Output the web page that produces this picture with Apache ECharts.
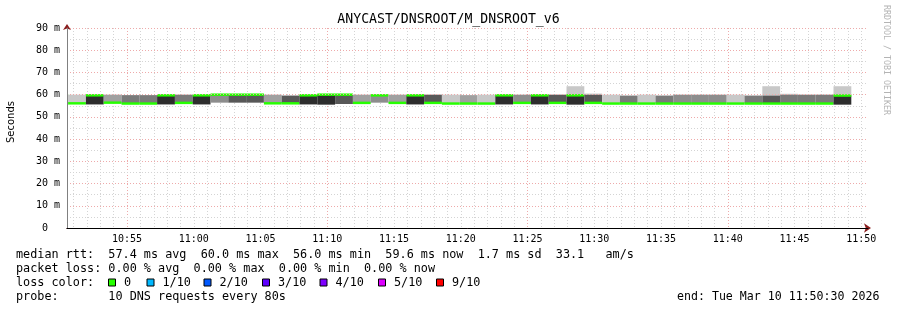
<!DOCTYPE html>
<html><head><meta charset="utf-8">
<script src="https://cdn.jsdelivr.net/npm/echarts@6/dist/echarts.min.js"></script>
<style>html,body{margin:0;padding:0;background:#fff}#c{width:897px;height:310px}</style>
</head><body><div id="c"></div>
<script>
// ---- data ----
const stepTimes = ['10:49:15','10:50:35','10:51:55','10:53:15','10:54:35','10:55:55','10:57:15','10:58:35','10:59:55','11:01:15','11:02:35','11:03:55','11:05:15','11:06:35','11:07:55','11:09:15','11:10:35','11:11:55','11:13:15','11:14:35','11:15:55','11:17:15','11:18:35','11:19:55','11:21:15','11:22:35','11:23:55','11:25:15','11:26:35','11:27:55','11:29:15','11:30:35','11:31:55','11:33:15','11:34:35','11:35:55','11:37:15','11:38:35','11:39:55','11:41:15','11:42:35','11:43:55','11:45:15','11:46:35','11:47:55'];
const medianRtt = [59.7,56.1,59.7,56.4,56.0,56.0,59.7,56.3,59.7,60.0,60.0,60.0,56.1,56.1,59.7,60.0,60.0,56.3,59.7,56.3,59.7,56.3,56.0,56.0,56.0,59.7,56.3,59.7,56.3,59.7,56.3,56.0,56.0,56.0,56.0,56.0,56.0,56.0,56.0,56.0,56.0,56.0,56.0,56.0,59.6];
const smokeLow  = [55.6,56.1,55.6,56.4,56.0,56.0,55.6,56.3,55.6,56.4,56.4,56.4,56.1,56.1,55.6,55.5,55.8,56.3,56.4,56.3,55.6,56.3,56.0,56.0,56.0,55.6,56.3,55.6,56.3,55.5,56.3,56.0,56.0,56.0,56.0,56.0,56.0,56.0,56.0,56.0,56.0,56.0,56.0,56.0,55.5];
const smokeHigh = [59.7,60.0,59.7,60.0,59.8,59.8,59.7,60.0,59.7,60.0,60.0,60.0,60.0,59.6,59.7,60.0,60.0,60.0,59.6,60.0,59.7,60.0,60.0,59.8,60.0,59.7,60.0,59.7,60.0,59.7,60.0,60.0,59.6,60.0,59.6,60.0,60.0,60.0,60.0,59.6,59.6,60.0,60.0,60.0,59.7];
const smokeOuter = [0,0,0,0,0,0,0,0,0,0,0,0,0,0,0,0,0,0,0,0,0,0,0,0,0,0,0,0,0,63.8,60.5,0,0,0,0,0,0,0,0,0,63.8,60.4,0,0,63.8];
const smokeDensity = [5,1,5,2,3,3,5,3,5,2.5,4,4,2,4,5,5,4,2,2.5,2,5,4,1,2,1,5,2.5,5,4,5,4,1,3,1,3,2.5,2.5,2.5,1,3,4,3,3,3,5];
const yTicks = [0,10,20,30,40,50,60,70,80,90];
const xTickLabels = ['10:55','11:00','11:05','11:10','11:15','11:20','11:25','11:30','11:35','11:40','11:45','11:50'];
const xMajorGrid = ['10:55','11:10','11:25','11:40'];
const axisRange = ['10:50:30','11:50:30'];
const lossLabels = ['0','1/10','2/10','3/10','4/10','5/10','9/10'];
const lossColors = ['#26ff00','#00b8ff','#0059ff','#5e00ff','#7e00ff','#dd00ff','#ff0000'];
const statsLines = [
  'median rtt:  57.4 ms avg  60.0 ms max  56.0 ms min  59.6 ms now  1.7 ms sd  33.1   am/s',
  'packet loss: 0.00 % avg  0.00 % max  0.00 % min  0.00 % now',
  'loss color:',
  'probe:       10 DNS requests every 80s'
];
const endText = 'end: Tue Mar 10 11:50:30 2026';
const titleText = 'ANYCAST/DNSROOT/M_DNSROOT_v6';
const STEP_SECONDS = 80;

// ---- helpers ----
const toMin = s => { const p = s.split(':').map(Number); return p[0]*60 + p[1] + (p[2]||0)/60; };
const fmtTime = v => { const h = Math.floor(v/60), m = Math.round(v - h*60); return (h<10?'0':'')+h+':'+(m<10?'0':'')+m; };
const X_MIN = toMin(axisRange[0]), X_MAX = toMin(axisRange[1]);
const STEP_MIN = STEP_SECONDS/60;
const greyLevels = [200,160,122,88,45];
function densityColor(d){
  const f = Math.min(Math.max(d,1),5) - 1, i = Math.floor(f), r = f - i;
  const g = Math.round(i >= 4 ? greyLevels[4] : greyLevels[i]*(1-r) + greyLevels[i+1]*r);
  return 'rgb('+g+','+g+','+g+')';
}
const majorMin = xMajorGrid.map(toMin);
const minorMin = [];
for (let m = Math.ceil(X_MIN); m <= Math.floor(X_MAX); m++) if (majorMin.indexOf(m) < 0) minorMin.push(m);

const MONO = '"DejaVu Sans Mono", monospace';
const MGRID = '#eeaaaa', GRID = '#d4d4d4', ARROW = '#8a1c1c';
const dots = [1,2];

const seriesData = stepTimes.map((t,i) => [toMin(t), smokeLow[i], smokeHigh[i], medianRtt[i], smokeOuter[i]]);

function renderItem(params, api){
  const cs = params.coordSys;
  const t = api.value(0), lo = api.value(1), hi = api.value(2), med = api.value(3), outer = api.value(4);
  const pA = api.coord([t, hi]), pB = api.coord([t + STEP_MIN, lo]);
  const x0 = Math.max(pA[0], cs.x), x1 = Math.min(pB[0], cs.x + cs.width);
  if (x1 <= x0) return;
  const kids = [];
  if (outer > hi) {
    const pO = api.coord([t, outer]);
    kids.push({type:'rect', shape:{x:x0, y:pO[1], width:x1-x0, height:pA[1]-pO[1]}, style:{fill:densityColor(1)}});
  }
  kids.push({type:'rect', shape:{x:x0, y:pA[1], width:x1-x0, height:pB[1]-pA[1]}, style:{fill:densityColor(smokeDensity[params.dataIndex])}});
  const m1 = api.coord([t, med + 0.55])[1], m2 = api.coord([t, med - 0.55])[1];
  kids.push({type:'rect', shape:{x:x0, y:m1, width:x1-x0, height:m2-m1}, style:{fill:lossColors[0]}});
  return {type:'group', children:kids};
}

// legend layout for the loss colour row
const legendBoxX = [108, 146.5, 203.5, 262, 319.5, 378, 436];
const TXT = '11.8px '+MONO;
const graphics = [];
graphics.push({type:'text', left:'center', top:13, style:{text:titleText, font:'13.2px '+MONO, fill:'#000'}});
graphics.push({type:'text', x:11, y:122, rotation:Math.PI/2, style:{text:'Seconds', font:'10px "DejaVu Sans", sans-serif', fill:'#000', align:'center', verticalAlign:'middle'}});
graphics.push({type:'text', x:886, y:5, rotation:-Math.PI/2, style:{text:'RRDTOOL / TOBI OETIKER', font:'8.3px '+MONO, fill:'#b4b4b4', align:'left', verticalAlign:'middle'}});
const lineY = [254.5, 268.5, 282.5, 296.5];
statsLines.forEach((s,i) => graphics.push({type:'text', x:16, y:lineY[i], style:{text:s, font:TXT, fill:'#000', verticalAlign:'middle', whiteSpace:'pre'}}));
graphics.push({type:'text', x:677, y:lineY[3], style:{text:endText, font:'11.6px '+MONO, fill:'#000', align:'left', verticalAlign:'middle'}});
lossLabels.forEach((l,i) => {
  graphics.push({type:'rect', shape:{x:legendBoxX[i]+0.5, y:lineY[2]-3.5, width:7, height:7}, style:{fill:lossColors[i], stroke:'#000', lineWidth:1}});
  graphics.push({type:'text', x:legendBoxX[i]+16, y:lineY[2], style:{text:l, font:TXT, fill:'#000', verticalAlign:'middle'}});
});

const baseX = {type:'value', min:X_MIN, max:X_MAX, gridIndex:0};
const baseY = {type:'value', min:0, max:90, gridIndex:0};
const option = {
  animation:false,
  backgroundColor:'#fff',
  grid:{left:67, right:29, top:28, bottom:82, outerBoundsMode:'none', containLabel:false},
  xAxis:[
    Object.assign({}, baseX, {z:3, position:'bottom',
      axisLine:{show:true, onZero:false, lineStyle:{color:'#000', width:1}},
      axisTick:{show:false, customValues:xTickLabels.map(toMin)},
      axisLabel:{show:true, customValues:xTickLabels.map(toMin), formatter:v=>fmtTime(v), fontFamily:MONO, fontSize:10, color:'#000', margin:6, showMinLabel:true, showMaxLabel:true},
      splitLine:{show:false}}),
    Object.assign({}, baseX, {z:1, position:'bottom',
      axisLine:{show:true, onZero:false, symbol:['none','arrow'], symbolSize:[7,7], symbolOffset:[0,3], lineStyle:{color:ARROW, width:1}},
      axisTick:{show:false}, axisLabel:{show:false}, splitLine:{show:false}}),
    Object.assign({}, baseX, {z:0,
      axisLine:{show:false}, axisTick:{show:false, customValues:minorMin}, axisLabel:{show:false},
      splitLine:{show:true, lineStyle:{color:GRID, type:dots, width:1}}}),
    Object.assign({}, baseX, {z:0,
      axisLine:{show:false}, axisTick:{show:false, customValues:majorMin}, axisLabel:{show:false},
      splitLine:{show:true, lineStyle:{color:MGRID, type:dots, width:1}}})
  ],
  yAxis:[
    Object.assign({}, baseY, {z:3, interval:10, position:'left',
      axisLine:{show:true, onZero:false, lineStyle:{color:'#808080', width:1}},
      axisTick:{show:false},
      axisLabel:{show:true, fontFamily:MONO, fontSize:10, color:'#000', margin:7, formatter:v => v===0 ? '0  ' : v+' m'},
      splitLine:{show:true, lineStyle:{color:MGRID, type:dots, width:1}},
      minorTick:{show:false, splitNumber:2},
      minorSplitLine:{show:true, lineStyle:{color:GRID, type:dots, width:1}}}),
    Object.assign({}, baseY, {z:1, position:'left',
      axisLine:{show:true, onZero:false, symbol:['none','arrow'], symbolSize:[6,6], symbolOffset:[0,4], lineStyle:{color:ARROW, width:1}},
      axisTick:{show:false}, axisLabel:{show:false}, splitLine:{show:false}})
  ],
  series:[{type:'custom', xAxisIndex:0, yAxisIndex:0, clip:true, renderItem:renderItem, data:seriesData, silent:true}],
  graphic:graphics
};
const chart = echarts.init(document.getElementById('c'), null, {renderer:'canvas', width:897, height:310});
chart.setOption(option);
</script>
</body></html>
